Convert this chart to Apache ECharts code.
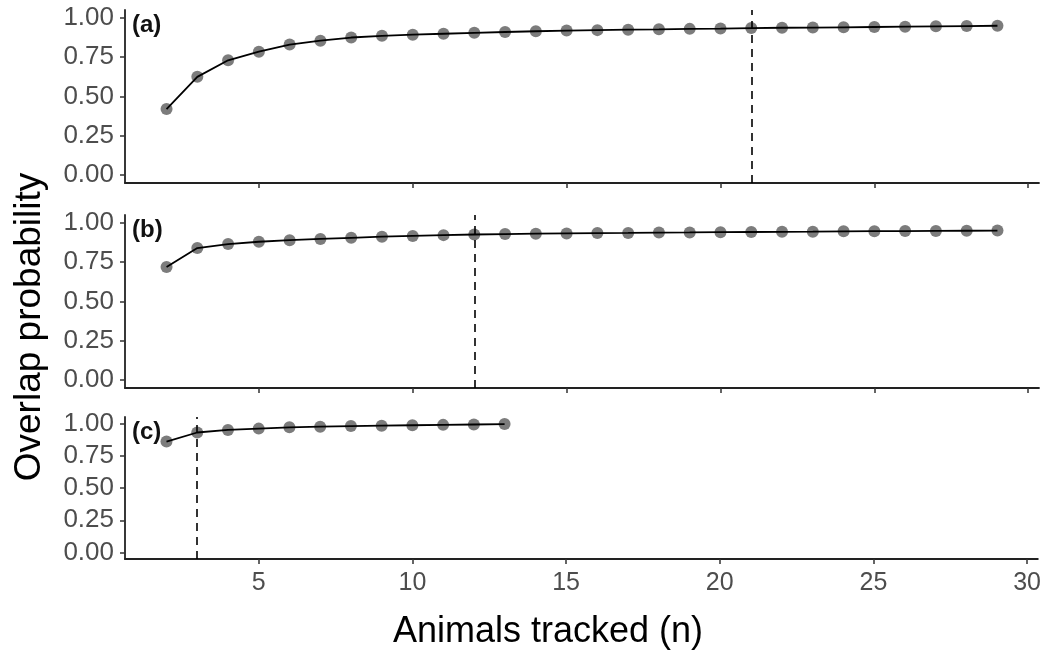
<!DOCTYPE html>
<html>
<head>
<meta charset="utf-8">
<script src="https://cdn.jsdelivr.net/npm/echarts@6/dist/echarts.min.js"></script>
<style>
html,body{margin:0;padding:0;background:#fff;}
#chart{width:1044px;height:655px;}
</style>
</head>
<body>
<div id="chart"></div>
<script>
// ---- data ----
const animalsAB = [2,3,4,5,6,7,8,9,10,11,12,13,14,15,16,17,18,19,20,21,22,23,24,25,26,27,28,29];
const animalsC = [2,3,4,5,6,7,8,9,10,11,12,13];
const overlapA = [0.42,0.625,0.73,0.785,0.83,0.855,0.875,0.886,0.893,0.899,0.905,0.91,0.915,0.919,0.922,0.925,0.927,0.93,0.932,0.935,0.937,0.938,0.94,0.942,0.944,0.946,0.948,0.95];
const overlapB = [0.72,0.84,0.865,0.88,0.89,0.898,0.905,0.912,0.917,0.922,0.926,0.929,0.931,0.933,0.935,0.936,0.938,0.939,0.941,0.942,0.943,0.944,0.946,0.947,0.948,0.949,0.95,0.951];
const overlapC = [0.86,0.93,0.95,0.96,0.97,0.975,0.98,0.983,0.986,0.989,0.992,0.995];
const thresholds = [21, 12, 3];
const panelLabels = ['(a)', '(b)', '(c)'];
const yTicks = [0, 0.25, 0.5, 0.75, 1];
const xTicks = [5, 10, 15, 20, 25, 30];
const xTitle = 'Animals tracked (n)';
const yTitle = 'Overlap probability';

// ---- layout ----
const FONT = '"Liberation Sans", Arial, sans-serif';
const grids = [
  {left: 125, right: 5, top: 10, height: 173},
  {left: 125, right: 5, top: 215, height: 173},
  {left: 125, right: 5, top: 417, height: 142}
];
const seriesData = [
  [animalsAB, overlapA],
  [animalsAB, overlapB],
  [animalsC, overlapC]
];

const xAxes = grids.map((g, i) => ({
  type: 'value', gridIndex: i, min: 0.65, max: 30.35,
  splitLine: {show: false},
  axisLine: {show: true, onZero: false, lineStyle: {color: '#222', width: 1.8}},
  axisTick: {show: true, length: 5, customValues: xTicks, lineStyle: {color: '#333', width: 1.5}},
  axisLabel: {show: i === 2, customValues: xTicks, margin: 12, color: '#4d4d4d', fontSize: 25, fontFamily: FONT}
}));
const yAxes = grids.map((g, i) => ({
  type: 'value', gridIndex: i, min: -0.05, max: 1.05,
  splitLine: {show: false},
  axisLine: {show: true, onZero: false, lineStyle: {color: '#222', width: 1.8}},
  axisTick: {show: true, length: 5, customValues: yTicks, lineStyle: {color: '#333', width: 1.5}},
  axisLabel: {show: true, customValues: yTicks, margin: 11, color: '#4d4d4d', fontSize: 26, fontFamily: FONT,
    formatter: v => v.toFixed(2)}
}));

const series = [];
seriesData.forEach(([xs, ys], i) => {
  const pts = xs.map((x, k) => [x, ys[k]]);
  series.push({
    type: 'scatter', xAxisIndex: i, yAxisIndex: i, data: pts,
    symbolSize: 12, z: 2, silent: true,
    itemStyle: {color: 'rgba(50,50,50,0.8)'}
  });
  series.push({
    type: 'line', xAxisIndex: i, yAxisIndex: i, data: pts,
    showSymbol: false, symbol: 'none', z: 3, silent: true,
    lineStyle: {color: '#000', width: 1.8},
    markLine: {
      symbol: 'none', silent: true, label: {show: false},
      lineStyle: {color: '#000', width: 1.6, type: [8, 6]},
      data: [{xAxis: thresholds[i]}]
    }
  });
});

const titles = panelLabels.map((t, i) => ({
  text: t, left: 132, top: grids[i].top + 3, padding: 0,
  textStyle: {fontSize: 24, fontWeight: 'bold', color: '#111', fontFamily: FONT}
}));

const chart = echarts.init(document.getElementById('chart'), null, {renderer: 'canvas'});
chart.setOption({
  animation: false,
  backgroundColor: '#fff',
  title: titles,
  grid: grids,
  xAxis: xAxes,
  yAxis: yAxes,
  series: series,
  graphic: [
    {type: 'text', x: 548, y: 632, style: {text: xTitle, font: '36px ' + FONT, fill: '#000', textAlign: 'center', textVerticalAlign: 'middle'}},
    {type: 'text', x: 30, y: 327, rotation: Math.PI / 2, style: {text: yTitle, font: '37px ' + FONT, fill: '#000', textAlign: 'center', textVerticalAlign: 'middle'}}
  ]
});
</script>
</body>
</html>
